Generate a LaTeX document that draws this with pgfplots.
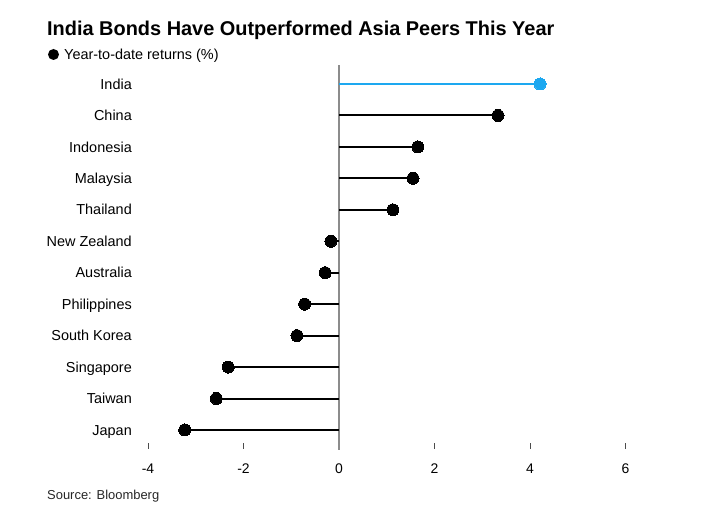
\documentclass[border=0pt]{standalone}
\usepackage{fontspec}
\setmainfont{Liberation Sans}
\usepackage{pgfplots}
\pgfplotsset{compat=1.18}
\definecolor{bblue}{RGB}{29,168,240}
\definecolor{zgray}{RGB}{140,140,140}
\pgfplotstableread{
y x
1 3.33
2 1.65
3 1.55
4 1.13
5 -0.17
6 -0.29
7 -0.72
8 -0.88
9 -2.32
10 -2.57
11 -3.23
}\others
\pgfplotstableread{
y x
0 4.21
}\india
\begin{document}
\begin{tikzpicture}[x=1bp,y=1bp]
\useasboundingbox (0,0) rectangle (707,511);
\node[anchor=base west, inner sep=0pt, font=\bfseries\fontsize{20}{22}\selectfont] at (47,511-36) {India Bonds Have Outperformed Asia Peers This Year};
\fill (53.5,511-54.5) circle (5.5);
\node[anchor=base west, inner sep=0pt, font=\fontsize{14.5}{16}\selectfont] at (64,511-60) {Year-to-date returns (\%)};
\node[anchor=base west, inner sep=0pt, font=\fontsize{13}{15}\selectfont, text=black!85] at (47,511-500) {Source: Bloomberg};
\begin{axis}[
  at={(339bp,427bp)}, anchor=origin,
  x=47.75bp, y=31.45bp, y dir=reverse,
  xmin=-4, xmax=6, ymin=-0.6, ymax=11.41,
  clip=false,
  axis x line*=bottom, axis y line*=left,
  axis line style={draw=none},
  xtick={-4,-2,0,2,4,6}, xticklabels={-4,-2,0,2,4,6},
  ytick={0,...,11},
  yticklabels={India,China,Indonesia,Malaysia,Thailand,New Zealand,Australia,Philippines,South Korea,Singapore,Taiwan,Japan},
  tick align=outside, major tick length=6bp,
  xtick style={draw=black!70, line width=0.8bp},
  ytick style={draw=none},
  xticklabel style={font=\fontsize{14}{16}\selectfont, inner sep=0pt, text height=10bp, text depth=0pt, anchor=north},
  xticklabel shift=14bp,
  yticklabel style={font=\fontsize{14.5}{16}\selectfont, inner sep=0pt, text height=10.4bp, text depth=0pt, anchor=east},
  yticklabel shift=10bp,
]
\draw[zgray, line width=1.5bp] (axis cs:0,-0.6) -- (axis cs:0,11.64);
\addplot[xcomb, black, line width=2bp, mark=*, mark size=6bp, mark options={fill=black, draw=black, line width=0pt}] table[x=x,y=y] {\others};
\addplot[xcomb, bblue, line width=2bp, mark=*, mark size=6bp, mark options={fill=bblue, draw=bblue, line width=0pt}] table[x=x,y=y] {\india};
\end{axis}
\end{tikzpicture}
\end{document}
